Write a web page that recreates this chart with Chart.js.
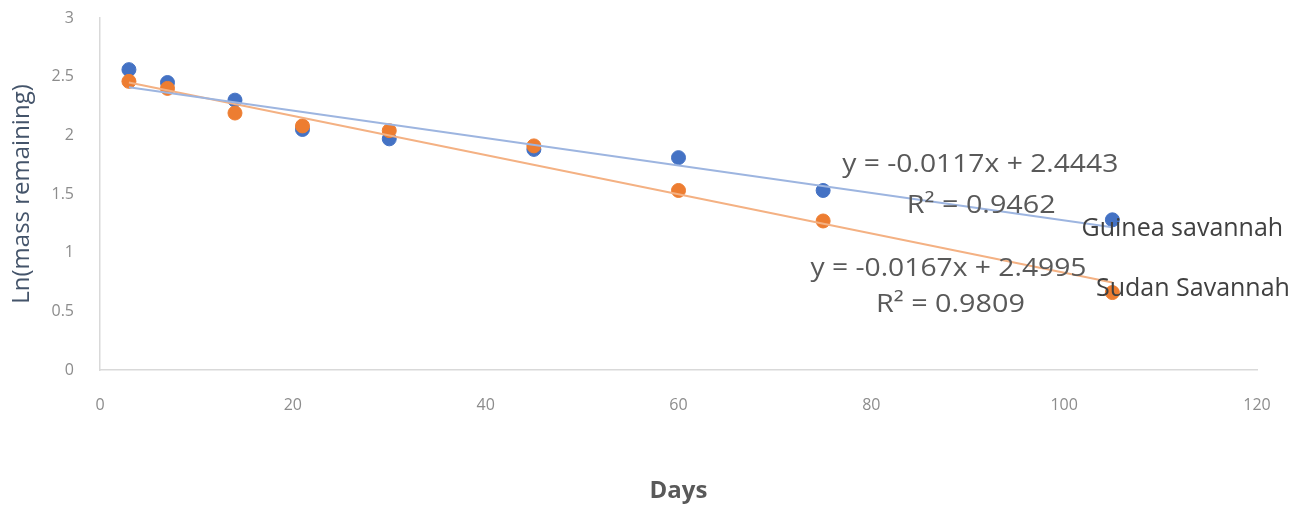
<!DOCTYPE html>
<html>
<head>
<meta charset="utf-8">
<script src="https://cdn.jsdelivr.net/npm/chart.js@4.4.1/dist/chart.umd.min.js"></script>
<style>
  html, body { margin: 0; padding: 0; background: #fff; }
  #wrap { width: 1306px; height: 510px; }
</style>
</head>
<body>
<div id="wrap"><canvas id="myChart" width="1306" height="510"></canvas></div>
<script>
// data
const days = [3, 7, 14, 21, 30, 45, 60, 75, 105];
const guinea = [2.56, 2.45, 2.30, 2.05, 1.97, 1.88, 1.81, 1.53, 1.28];
const sudan = [2.46, 2.40, 2.19, 2.08, 2.04, 1.91, 1.53, 1.27, 0.66];

// trendline coefficients as printed on the chart
const guineaFit = { slope: -0.0117, intercept: 2.4443, r2: '0.9462' };
const sudanFit = { slope: -0.0167, intercept: 2.4995, r2: '0.9809' };

const xTicks = ['0', '20', '40', '60', '80', '100', '120'];
const yTicks = ['0', '0.5', '1', '1.5', '2', '2.5', '3'];

const blue = '#4472C4';
const orange = '#ED7D31';
const fontFam = '"Open Sans", "Liberation Sans", sans-serif';

function toPoints(xs, ys) {
    return xs.map((x, i) => ({ x: x, y: ys[i] }));
}

function fitLine(fit) {
    const x0 = days[0];
    const x1 = days[days.length - 1];
    return [
        { x: x0, y: fit.slope * x0 + fit.intercept },
        { x: x1, y: fit.slope * x1 + fit.intercept }
    ];
}

function eqText(fit) {
    return 'y = ' + fit.slope.toFixed(4) + 'x + ' + fit.intercept.toFixed(4);
}

// text next to the series: [text, x value, y value, align, color, stretch]
const notes = [
    [eqText(guineaFit), 91.3, 1.745, 'center', '#595959', 1.13],
    ['R² = ' + guineaFit.r2, 91.4, 1.40, 'center', '#595959', 1.15],
    ['Guinea savannah', 101.8, 1.20, 'left', '#404040', 1],
    [eqText(sudanFit), 88.0, 0.86, 'center', '#595959', 1.13],
    ['R² = ' + sudanFit.r2, 88.2, 0.555, 'center', '#595959', 1.15],
    ['Sudan Savannah', 103.3, 0.69, 'left', '#404040', 1]
];

const notesPlugin = {
    id: 'notes',
    afterDatasetsDraw(chart) {
        const ctx = chart.ctx;
        const xs = chart.scales.x;
        const ys = chart.scales.y;
        notes.forEach(n => {
            ctx.save();
            ctx.font = '25px ' + fontFam;
            ctx.fillStyle = n[4];
            ctx.textAlign = n[3];
            ctx.textBaseline = 'middle';
            ctx.translate(xs.getPixelForValue(n[1]), ys.getPixelForValue(n[2]));
            ctx.scale(n[5], 1);
            ctx.fillText(n[0], 0, 0);
            ctx.restore();
        });
    }
};

const ctx = document.getElementById('myChart');

new Chart(ctx, {
    type: 'scatter',
    data: {
        datasets: [
            {
                label: 'Guinea savannah trend',
                type: 'line',
                data: fitLine(guineaFit),
                borderColor: '#9DB5E0',
                borderWidth: 2,
                pointRadius: 0,
                fill: false,
                order: 0
            },
            {
                label: 'Sudan Savannah trend',
                type: 'line',
                data: fitLine(sudanFit),
                borderColor: '#F4B183',
                borderWidth: 2,
                pointRadius: 0,
                fill: false,
                order: 0
            },
            {
                label: 'Guinea savannah',
                data: toPoints(days, guinea),
                backgroundColor: blue,
                borderColor: blue,
                pointRadius: 7,
                order: 2
            },
            {
                label: 'Sudan Savannah',
                data: toPoints(days, sudan),
                backgroundColor: orange,
                borderColor: orange,
                pointRadius: 7,
                order: 1
            }
        ]
    },
    options: {
        responsive: false,
        animation: false,
        layout: { padding: { top: 18, right: 49, bottom: 0, left: 0 } },
        plugins: {
            legend: { display: false },
            tooltip: { enabled: false }
        },
        scales: {
            x: {
                type: 'linear',
                min: 0,
                max: 120,
                ticks: {
                    stepSize: 20,
                    padding: 18,
                    color: '#8C8C8C',
                    font: { family: fontFam, size: 16 },
                    callback: (v) => xTicks[v / 20]
                },
                grid: { display: false },
                border: { display: true, color: '#D9D9D9', width: 1.5 },
                title: {
                    display: true,
                    text: 'Days',
                    color: '#595959',
                    font: { family: fontFam, size: 24, weight: 'bold' },
                    padding: { top: 0, bottom: 4 }
                },
                afterFit: (s) => { s.height = 140; s.paddingLeft = 0; s.paddingRight = 0; }
            },
            y: {
                min: 0,
                max: 3,
                ticks: {
                    stepSize: 0.5,
                    padding: 18,
                    color: '#8C8C8C',
                    font: { family: fontFam, size: 16 },
                    callback: (v) => yTicks[Math.round(v * 2)]
                },
                grid: { display: false },
                border: { display: true, color: '#D9D9D9', width: 1.5 },
                title: {
                    display: true,
                    text: 'Ln(mass remaining)',
                    color: '#44546A',
                    font: { family: fontFam, size: 24 },
                    padding: { top: 8, bottom: 0 }
                },
                afterFit: (s) => { s.width = 100; s.paddingTop = 0; s.paddingBottom = 0; }
            }
        }
    },
    plugins: [notesPlugin]
});
</script>
</body>
</html>
